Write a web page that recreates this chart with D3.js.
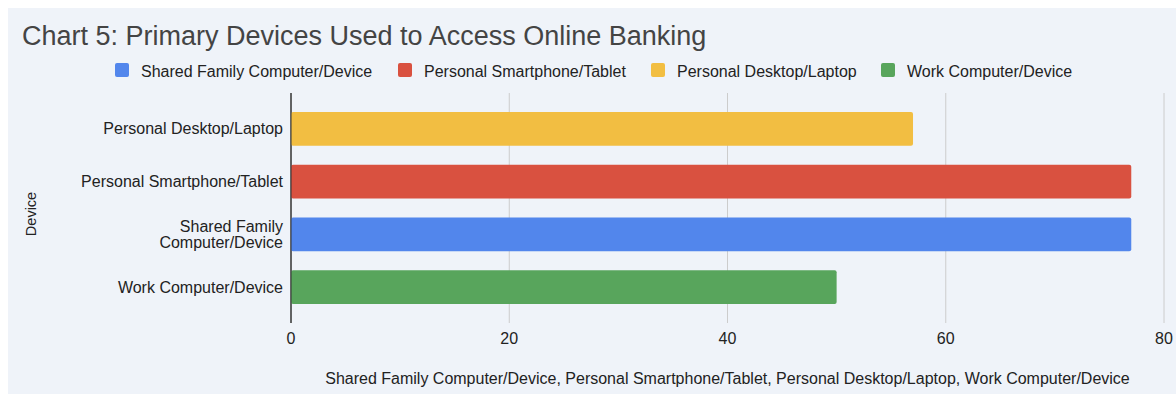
<!DOCTYPE html>
<html lang="en">
<head>
  <meta charset="UTF-8">
  <title>Chart 5</title>
  <script src="https://d3js.org/d3.v7.min.js"></script>
  <style>
    body { margin: 0; background: #fff; font-family: "Liberation Sans", Arial, sans-serif; }
    svg { display: block; }
  </style>
</head>
<body>
  <script>
    const categories = ["Personal Desktop/Laptop", "Personal Smartphone/Tablet", "Shared Family Computer/Device", "Work Computer/Device"];
    const values = [57, 77, 77, 50];
    const legendOrder = ["Shared Family Computer/Device", "Personal Smartphone/Tablet", "Personal Desktop/Laptop", "Work Computer/Device"];
    const xTicks = [0, 20, 40, 60, 80];
    const colors = {
      "Shared Family Computer/Device": "#5286ec",
      "Personal Smartphone/Tablet": "#d95140",
      "Personal Desktop/Laptop": "#f2be42",
      "Work Computer/Device": "#58a55c"
    };
    // wrapped tick labels
    const labelLines = {
      "Shared Family Computer/Device": ["Shared Family", "Computer/Device"]
    };

    const width = 1176, height = 394;
    const svg = d3.select("body").append("svg")
      .attr("width", width).attr("height", height);

    svg.append("rect").attr("x", 8).attr("y", 8)
      .attr("width", width - 8).attr("height", height - 8)
      .attr("fill", "#eff3f9");

    // title
    svg.append("text").attr("x", 22).attr("y", 44.5)
      .attr("font-size", 27).attr("fill", "#444")
      .text("Chart 5: Primary Devices Used to Access Online Banking");

    const x = d3.scaleLinear().domain([0, 80]).range([291, 1164]);
    const y = d3.scaleBand().domain(categories).range([93, 323]).padding(0.36);

    // gridlines
    svg.append("g").selectAll("line")
      .data(xTicks)
      .join("line")
      .attr("x1", d => x(d)).attr("x2", d => x(d))
      .attr("y1", 93).attr("y2", 323)
      .attr("stroke", d => d === 0 ? "#333" : "#ccc")
      .attr("stroke-width", 1);

    // bars
    svg.append("g").selectAll("rect")
      .data(categories)
      .join("rect")
      .attr("x", x(0))
      .attr("y", d => y(d))
      .attr("width", (d, i) => x(values[i]) - x(0))
      .attr("height", y.bandwidth())
      .attr("rx", 2)
      .attr("fill", d => colors[d]);

    // redraw zero line on top
    svg.append("line")
      .attr("x1", x(0)).attr("x2", x(0)).attr("y1", 93).attr("y2", 323)
      .attr("stroke", "#333");

    // x tick labels
    svg.append("g").selectAll("text")
      .data(xTicks)
      .join("text")
      .attr("x", d => x(d)).attr("y", 344)
      .attr("text-anchor", "middle").attr("font-size", 16).attr("fill", "#222")
      .text(d => d);

    // y labels
    const yl = svg.append("g").selectAll("text")
      .data(categories)
      .join("text")
      .attr("text-anchor", "end").attr("font-size", 16).attr("fill", "#222")
      .attr("x", 283)
      .attr("y", d => y(d) + y.bandwidth() / 2);
    yl.each(function(d) {
      const lines = labelLines[d] || [d];
      const t = d3.select(this);
      lines.forEach((l, i) => {
        t.append("tspan").attr("x", 283)
          .attr("dy", i === 0 ? (5.5 - (lines.length - 1) * 8) : 16)
          .text(l);
      });
    });

    // axis titles
    svg.append("text")
      .attr("x", x(40)).attr("y", 384)
      .attr("text-anchor", "middle").attr("font-size", 16).attr("fill", "#222")
      .text("Shared Family Computer/Device, Personal Smartphone/Tablet, Personal Desktop/Laptop, Work Computer/Device");

    svg.append("text")
      .attr("transform", "translate(36,214) rotate(-90)")
      .attr("text-anchor", "middle").attr("font-size", 14.5).attr("fill", "#222")
      .text("Device");

    // legend
    const legendX = [115, 398, 651, 881];
    const lg = svg.append("g").selectAll("g")
      .data(legendOrder)
      .join("g")
      .attr("transform", (d, i) => `translate(${legendX[i]},63)`);
    lg.append("rect").attr("width", 14).attr("height", 14).attr("rx", 2)
      .attr("fill", d => colors[d]);
    lg.append("text").attr("x", 26).attr("y", 13.5)
      .attr("font-size", 16).attr("fill", "#222")
      .text(d => d);
  </script>
</body>
</html>
